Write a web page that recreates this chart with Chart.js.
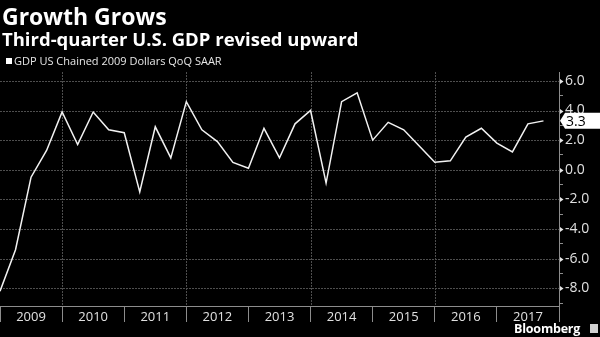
<!DOCTYPE html>
<html>
<head>
<meta charset="utf-8">
<script src="https://cdn.jsdelivr.net/npm/chart.js@4"></script>
<style>
  html, body { margin: 0; padding: 0; background: #000; }
  #wrap { position: relative; width: 600px; height: 337px; background: #000; overflow: hidden; }
  #wrap canvas { position: absolute; left: 0; top: 0; }
  .title { position: absolute; left: 2px; top: 0px; color: #fff; font: bold 23px "Open Sans", sans-serif; white-space: nowrap; }
  .subtitle { position: absolute; left: 2px; top: 26px; color: #fff; font: bold 18.5px "Open Sans", sans-serif; white-space: nowrap; }
  .legend { position: absolute; left: 6px; top: 53px; color: #e6e6e6; font: 11px "Open Sans", sans-serif; white-space: nowrap; }
  .legend i { display: inline-block; width: 6px; height: 6px; background: #fff; margin-right: 2px; vertical-align: 1px; }
  .brand { position: absolute; left: 514px; top: 320px; color: #fff; font: bold 12.5px "Open Sans", sans-serif; letter-spacing: -0.2px; }
  .brand-icon { position: absolute; left: 590px; top: 324px; width: 8px; height: 9px; background: #d0d0d0; }
</style>
</head>
<body>
<div id="wrap">
  <canvas id="chart" width="600" height="337"></canvas>
  <div class="title">Growth Grows</div>
  <div class="subtitle">Third-quarter U.S. GDP revised upward</div>
  <div class="legend"><i></i>GDP US Chained 2009 Dollars QoQ SAAR</div>
  <div class="brand">Bloomberg</div>
  <div class="brand-icon"></div>
</div>
<script>
// quarterly real GDP growth, annualized, 2008 Q4 .. 2017 Q3
const quarters = [
  '2008Q4',
  '2009Q1', '2009Q2', '2009Q3', '2009Q4',
  '2010Q1', '2010Q2', '2010Q3', '2010Q4',
  '2011Q1', '2011Q2', '2011Q3', '2011Q4',
  '2012Q1', '2012Q2', '2012Q3', '2012Q4',
  '2013Q1', '2013Q2', '2013Q3', '2013Q4',
  '2014Q1', '2014Q2', '2014Q3', '2014Q4',
  '2015Q1', '2015Q2', '2015Q3', '2015Q4',
  '2016Q1', '2016Q2', '2016Q3', '2016Q4',
  '2017Q1', '2017Q2', '2017Q3'
];
const gdpGrowth = [
  -8.2,
  -5.4, -0.5, 1.3, 3.9,
  1.7, 3.9, 2.7, 2.5,
  -1.5, 2.9, 0.8, 4.6,
  2.7, 1.9, 0.5, 0.1,
  2.8, 0.8, 3.1, 4.0,
  -0.9, 4.6, 5.2, 2.0,
  3.2, 2.7, 1.6, 0.5,
  0.6, 2.2, 2.8, 1.8,
  1.2, 3.1, 3.3
];
const years = [2009, 2010, 2011, 2012, 2013, 2014, 2015, 2016, 2017];
const yTickValues = [-8, -6, -4, -2, 0, 2, 4, 6];
const gridQuarters = [4, 12, 20, 28];

const axisGrey = '#8c8c8c';
const labelColor = '#e0e0e0';

// x runs in quarters: 0 = end of 2008, 4 = end of 2009, ...
const points = gdpGrowth.map((v, i) => ({ x: i, y: v }));

// dotted guide lines: every other year boundary and every even value
const dottedGrid = {
  id: 'dottedGrid',
  afterDraw(chart) {
    const { ctx, chartArea: a, scales: { x, y } } = chart;
    ctx.save();
    ctx.globalCompositeOperation = 'destination-over';
    ctx.fillStyle = '#4e4e4e';
    gridQuarters.forEach(q => {
      const px = Math.round(x.getPixelForValue(q));
      for (let py = Math.ceil(a.top); py < a.bottom; py += 3) ctx.fillRect(px, py, 1, 2);
    });
    yTickValues.forEach(v => {
      const py = Math.round(y.getPixelForValue(v));
      for (let px = Math.ceil(a.left); px < a.right; px += 3) ctx.fillRect(px, py, 2, 1);
    });
    ctx.restore();
  }
};

// small markers on the value axis + the last value tag
const axisMarks = {
  id: 'axisMarks',
  afterDraw(chart) {
    const { ctx, scales: { y } } = chart;
    const x0 = chart.chartArea.right;
    ctx.save();
    ctx.fillStyle = '#e6e6e6';
    yTickValues.forEach(v => {
      const py = Math.round(y.getPixelForValue(v)) + 0.5;
      ctx.beginPath();
      ctx.moveTo(x0 + 1, py - 2.5);
      ctx.lineTo(x0 + 4.5, py);
      ctx.lineTo(x0 + 1, py + 2.5);
      ctx.closePath();
      ctx.fill();
    });

    const last = gdpGrowth[gdpGrowth.length - 1];
    const ly = y.getPixelForValue(last);
    ctx.fillStyle = '#ffffff';
    ctx.beginPath();
    ctx.moveTo(x0 + 1, ly);
    ctx.lineTo(x0 + 6, ly - 8);
    ctx.lineTo(600, ly - 8);
    ctx.lineTo(600, ly + 8);
    ctx.lineTo(x0 + 6, ly + 8);
    ctx.closePath();
    ctx.fill();
    ctx.fillStyle = '#000';
    ctx.font = '14px "Open Sans", sans-serif';
    ctx.textBaseline = 'middle';
    ctx.textAlign = 'left';
    ctx.fillText(last.toFixed(1), x0 + 7, ly + 1);
    ctx.restore();
  }
};

new Chart(document.getElementById('chart'), {
  type: 'line',
  data: {
    datasets: [{
      label: 'GDP US Chained 2009 Dollars QoQ SAAR',
      data: points,
      borderColor: '#f2f2f2',
      borderWidth: 1.5,
      pointRadius: 0,
      tension: 0,
      fill: false
    }]
  },
  options: {
    responsive: false,
    animation: false,
    devicePixelRatio: 1,
    layout: { padding: { top: 72, left: 0, right: 0, bottom: 0 } },
    plugins: { legend: { display: false }, tooltip: { enabled: false } },
    scales: {
      x: {
        type: 'linear',
        min: 0,
        max: 36,
        afterBuildTicks: s => {
          const t = [];
          for (let v = 0; v <= 36; v += 2) t.push({ value: v });
          s.ticks = t;
        },
        afterFit: s => { s.height = 31; s.paddingLeft = 0; s.paddingRight = 0; },
        ticks: {
          autoSkip: false,
          maxRotation: 0,
          padding: -13,
          color: labelColor,
          font: { family: '"Open Sans", sans-serif', size: 13 },
          callback: v => (v % 4 === 2 ? String(years[(v - 2) / 4]) : '')
        },
        grid: {
          drawOnChartArea: false,
          tickColor: c => (c.tick && c.tick.value % 4 === 0 ? axisGrey : 'transparent'),
          tickLength: 16,
          lineWidth: 1
        },
        border: { color: axisGrey, width: 1 }
      },
      y: {
        position: 'right',
        min: -9.2,
        max: 6.6,
        afterBuildTicks: s => {
          const t = [];
          for (let v = -9; v <= 6; v++) t.push({ value: v });
          s.ticks = t;
        },
        afterFit: s => { s.width = 41; s.paddingTop = 0; s.paddingBottom = 0; },
        ticks: {
          autoSkip: false,
          padding: 2,
          color: labelColor,
          font: { family: '"Open Sans", sans-serif', size: 14 },
          callback: v => (v % 2 === 0 ? v.toFixed(1) : '')
        },
        grid: {
          drawOnChartArea: false,
          tickColor: c => (c.tick && c.tick.value % 2 !== 0 ? axisGrey : 'transparent'),
          tickLength: 4,
          lineWidth: 1
        },
        border: { color: axisGrey, width: 1 }
      }
    }
  },
  plugins: [dottedGrid, axisMarks]
});
</script>
</body>
</html>
